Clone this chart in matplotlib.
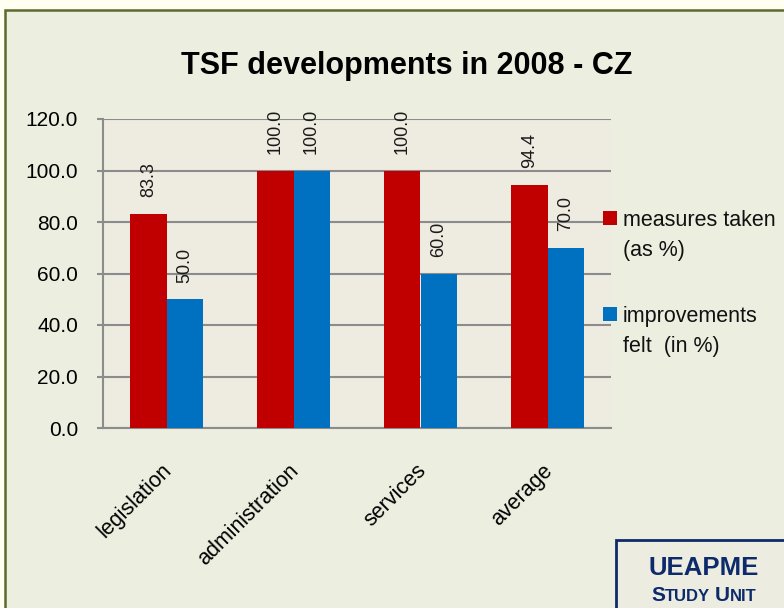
import matplotlib
matplotlib.use("Agg")
import matplotlib.pyplot as plt
import matplotlib.transforms as mtransforms
from matplotlib.patches import Rectangle
import numpy as np

# chart data
categories = ["legislation", "administration", "services", "average"]
measures_taken = [83.3, 100.0, 100.0, 94.4]
improvements_felt = [50.0, 100.0, 60.0, 70.0]
series_labels = ["measures taken\n(as %)", "improvements\nfelt  (in %)"]
y_ticks = [0, 20, 40, 60, 80, 100, 120]

RED = "#c00000"
BLUE = "#0070c0"
GRID = "#8c8c8c"
NAVY = "#0d2b6b"
W, H = 784, 608

plt.rcParams["font.family"] = ["Liberation Sans", "DejaVu Sans"]

fig = plt.figure(figsize=(W / 100, H / 100), dpi=100)
fig.patch.set_facecolor("#fffff2")

# outer panel with olive border (behind the axes)
fig.patches.append(Rectangle((5 / W, -0.05), 1.2, (H - 10) / H + 0.05,
                             transform=fig.transFigure, facecolor="#eceee0",
                             edgecolor="#5b6b2b", linewidth=1.8, zorder=-5))

ax = fig.add_axes([103 / W, (H - 428) / H, (611 - 103) / W, (428 - 119) / H])
ax.set_facecolor("#eeebe0")

x = np.arange(len(categories))
bw = 0.285
b1 = ax.bar(x - bw / 2, measures_taken, bw, color=RED, zorder=3)
b2 = ax.bar(x + bw / 2, improvements_felt, bw, color=BLUE, zorder=3)

for bars, vals in ((b1, measures_taken), (b2, improvements_felt)):
    for b, v in zip(bars, vals):
        ax.annotate(f"{v:.1f}", (b.get_x() + b.get_width() / 2, v),
                    xytext=(0, 12), textcoords="offset points",
                    ha="center", va="bottom", rotation=90,
                    fontsize=13, color="#1a1a1a", zorder=4,
                    annotation_clip=False)

ax.set_xlim(-0.5, len(categories) - 0.5)
ax.set_ylim(0, 120)
ax.set_yticks(y_ticks)
ax.set_yticklabels([f"{t:.1f}" for t in y_ticks], fontsize=15)
ax.tick_params(axis="y", length=4, width=1.5, color=GRID, pad=14)
ax.set_xticks(x)
ax.set_xticklabels(categories, fontsize=15.5, rotation=45, ha="right",
                   va="top", rotation_mode="anchor")
ax.tick_params(axis="x", length=0, pad=23)
offset = mtransforms.ScaledTranslation(-5 / 100, 0, fig.dpi_scale_trans)
for lab in ax.get_xticklabels():
    lab.set_transform(lab.get_transform() + offset)

ax.yaxis.grid(True, color=GRID, linewidth=1.5, zorder=1)
ax.set_axisbelow(True)
for s in ("top", "right"):
    ax.spines[s].set_visible(False)
for s in ("left", "bottom"):
    ax.spines[s].set_color(GRID)
    ax.spines[s].set_linewidth(1.5)

# title
fig.text(407 / W, 1 - 74 / H, "TSF developments in 2008 - CZ",
         ha="center", va="baseline", fontsize=22, fontweight="bold")

# legend drawn by hand so the marker sits on the first line
legend_rows = [(RED, 211, 226), (BLUE, 307, 322)]
for (col, top, base), lab in zip(legend_rows, series_labels):
    fig.patches.append(Rectangle((603 / W, 1 - (top + 14) / H), 14 / W, 14 / H,
                                 transform=fig.transFigure, facecolor=col,
                                 edgecolor="none"))
    for i, line in enumerate(lab.split("\n")):
        fig.text(623 / W, 1 - (base + 30 * i) / H, line, ha="left",
                 va="baseline", fontsize=15.5, color="#111111")

# UEAPME box
fig.patches.append(Rectangle((616 / W, -0.05), 0.5, (H - 540) / H + 0.05,
                             transform=fig.transFigure, facecolor="#ecece0",
                             edgecolor=NAVY, linewidth=2, zorder=2))
fig.text(704 / W, 1 - 575 / H, "UEAPME", ha="center", va="baseline",
         fontsize=18.5, fontweight="bold", color=NAVY, zorder=3)

pieces = [("S", 15), ("TUDY", 12), (" ", 12), ("U", 15), ("NIT", 12)]
renderer = fig.canvas.get_renderer()
texts = []
for s, fs in pieces:
    t = fig.text(0, 1 - 601 / H, s, ha="left", va="baseline", fontsize=fs,
                 fontweight="bold", color=NAVY, zorder=3)
    texts.append(t)
widths = []
for t in texts:
    if t.get_text() == " ":
        widths.append(0.278 * 12 * 100 / 72)
    else:
        widths.append(t.get_window_extent(renderer).width)
xpos = 704 - sum(widths) / 2
for t, w in zip(texts, widths):
    t.set_x(xpos / W)
    xpos += w

fig.savefig("out.png", dpi=100, facecolor=fig.get_facecolor())
